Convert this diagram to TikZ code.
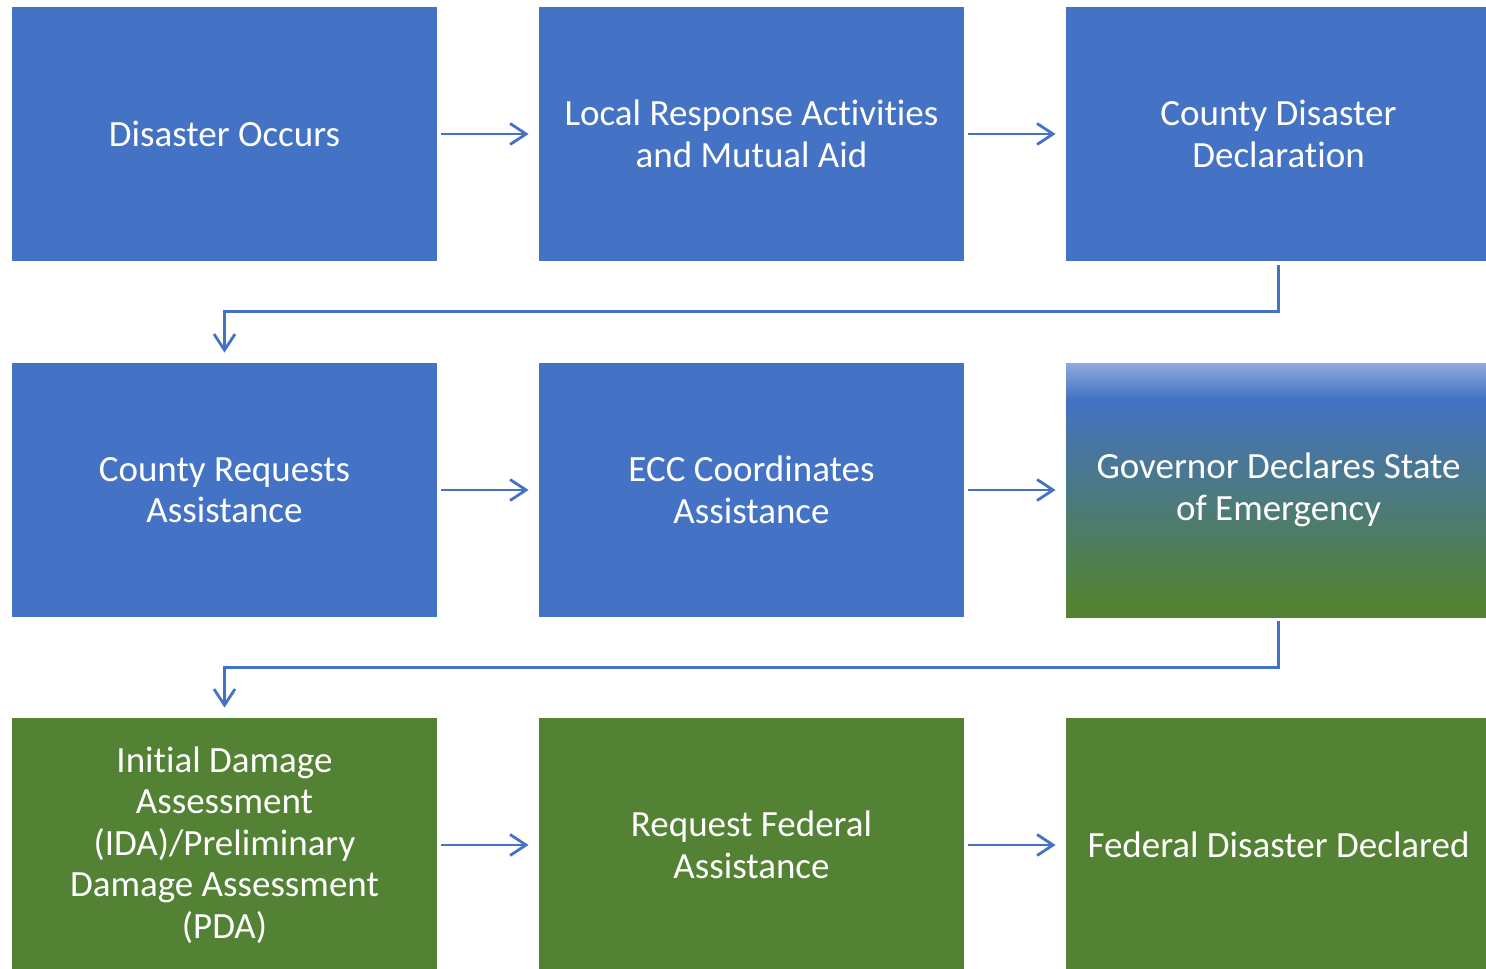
\documentclass[tikz,border=0pt]{standalone}
\usepackage{fontspec}
\setmainfont[Renderer=OpenType,Ligatures={NoCommon,NoContextual}]{Carlito}
\usetikzlibrary{arrows.meta}
\definecolor{ecblue}{HTML}{4472C4}
\definecolor{ecgreen}{HTML}{548235}
\definecolor{ecsky}{HTML}{8FAADC}
\pgfdeclareverticalshading{govshade}{100bp}{color(0bp)=(ecgreen); color(28bp)=(ecgreen); color(68bp)=(ecblue); color(75bp)=(ecsky); color(100bp)=(ecsky)}
\tikzset{
  stage/.style={rectangle, minimum width=212.5pt, minimum height=127pt, inner sep=0pt, align=center, text=white, font=\fontsize{18.5}{20.8}\selectfont},
  bluestage/.style={stage, fill=ecblue},
  greenstage/.style={stage, fill=ecgreen},
  govstage/.style={stage, shading=govshade},
  flow/.style={draw=ecblue, line width=1.4pt, -{Straight Barb[length=8pt,width=10.5pt]}, shorten <=2pt, shorten >=5pt}
}
\begin{document}
\begin{tikzpicture}[x=0.5pt, y=-0.5pt]
\useasboundingbox (0,0) rectangle (1486,968);
\node[bluestage] (st0) at (224.5,134){Disaster Occurs};
\node[bluestage] (st1) at (751.5,134){Local Response Activities\\and Mutual Aid};
\node[bluestage] (st2) at (1278.5,134){County Disaster\\Declaration};
\draw[flow](st0) -- (st1);
\draw[flow](st1) -- (st2);
\node[bluestage] (st3) at (224.5,490){County Requests\\Assistance};
\node[bluestage] (st4) at (751.5,490){ECC Coordinates\\Assistance};
\node[govstage] (st5) at (1278.5,490){Governor Declares State\\of Emergency};
\draw[flow](st2.south) -- ++(0,50) -| (st3.north);
\draw[flow](st3) -- (st4);
\draw[flow](st4) -- (st5);
\node[greenstage] (st6) at (224.5,845){Initial Damage\\Assessment\\(IDA)/Preliminary\\Damage Assessment\\(PDA)};
\node[greenstage] (st7) at (751.5,845){Request Federal\\Assistance};
\node[greenstage] (st8) at (1278.5,845){Federal Disaster Declared};
\draw[flow](st5.south) -- ++(0,50) -| (st6.north);
\draw[flow](st6) -- (st7);
\draw[flow](st7) -- (st8);
\end{tikzpicture}
\end{document}
